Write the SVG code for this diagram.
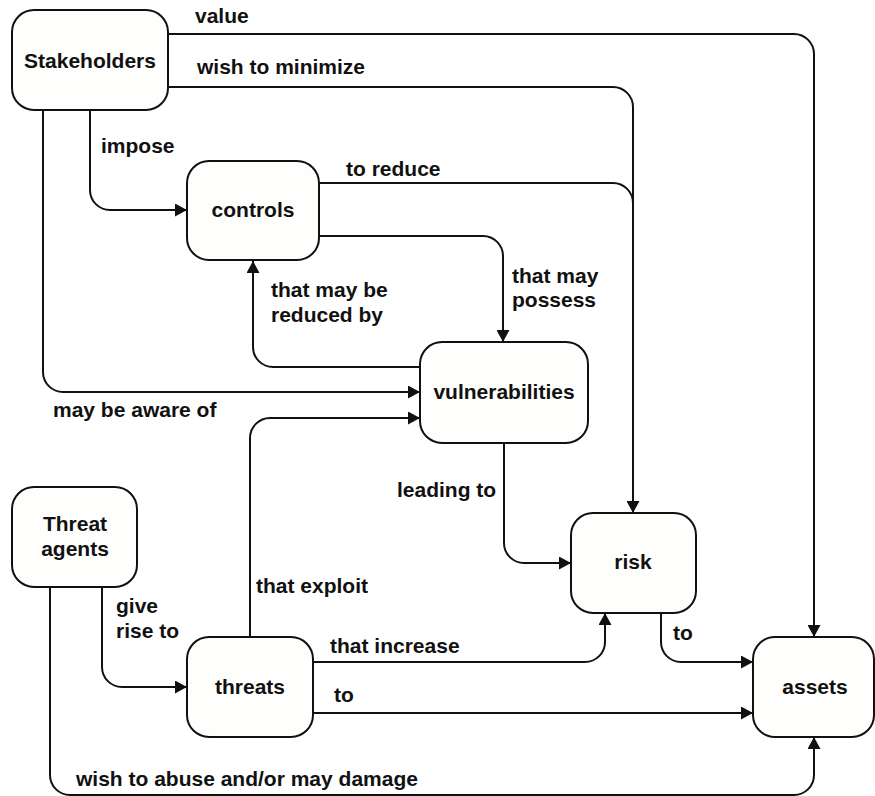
<svg xmlns="http://www.w3.org/2000/svg" width="875" height="796" viewBox="0 0 875 796">
  <defs>
    <marker id="arrow" markerUnits="userSpaceOnUse" markerWidth="13" markerHeight="13" refX="12" refY="6.5" orient="auto">
      <path d="M0,0 L12,6.5 L0,13 z" fill="#111"/>
    </marker>
    <style>
      .box { fill: #fefefd; stroke: #111; stroke-width: 2; }
      .node { font-family: "Liberation Sans", Arial, sans-serif; font-weight: bold; font-size: 21px; fill: #111; text-anchor: middle; }
      .lbl { font-family: "Liberation Sans", Arial, sans-serif; font-weight: bold; font-size: 21px; fill: #111; }
      .edge { fill: none; stroke: #111; stroke-width: 2; }
      .arr { marker-end: url(#arrow); }
    </style>
  </defs>
  <rect width="875" height="796" fill="#ffffff"/>

  <!-- connectors -->
  <g id="connectors">
    <path class="edge arr" d="M168,34 H794 A20,20 0 0 1 814,54 V637"/>
    <path class="edge arr" d="M168,87 H613 A20,20 0 0 1 633,107 V513"/>
    <path class="edge" d="M319,183 H613 A20,20 0 0 1 633,203"/>
    <path class="edge arr" d="M319,236 H483 A20,20 0 0 1 503,256 V342"/>
    <path class="edge arr" d="M420,367 H273 A20,20 0 0 1 253,347 V261"/>
    <path class="edge arr" d="M90,110 V190 A20,20 0 0 0 110,210 H187"/>
    <path class="edge arr" d="M43,110 V372 A20,20 0 0 0 63,392 H420"/>
    <path class="edge arr" d="M250,637 V438 A20,20 0 0 1 270,418 H420"/>
    <path class="edge arr" d="M504,443 V543 A20,20 0 0 0 524,563 H571"/>
    <path class="edge arr" d="M102,587 V667 A20,20 0 0 0 122,687 H187"/>
    <path class="edge arr" d="M313,662 H585 A20,20 0 0 0 605,642 V613"/>
    <path class="edge arr" d="M313,713 H753"/>
    <path class="edge arr" d="M661,613 V642 A20,20 0 0 0 681,662 H753"/>
    <path class="edge arr" d="M50,587 V775 A20,20 0 0 0 70,795 H794 A20,20 0 0 0 814,775 V737"/>
  </g>

  <!-- connector labels -->
  <g id="labels">
    <text class="lbl" x="195" y="23">value</text>
    <text class="lbl" x="197" y="74">wish to minimize</text>
    <text class="lbl" x="101" y="153">impose</text>
    <text class="lbl" x="346" y="176">to reduce</text>
    <text class="lbl" x="512" y="283">that may</text>
    <text class="lbl" x="512" y="307">possess</text>
    <text class="lbl" x="271" y="297">that may be</text>
    <text class="lbl" x="271" y="322">reduced by</text>
    <text class="lbl" x="53" y="417">may be aware of</text>
    <text class="lbl" x="397" y="497">leading to</text>
    <text class="lbl" x="256" y="593">that exploit</text>
    <text class="lbl" x="116" y="613">give</text>
    <text class="lbl" x="116" y="638">rise to</text>
    <text class="lbl" x="330" y="653">that increase</text>
    <text class="lbl" x="334" y="702">to</text>
    <text class="lbl" x="673" y="640">to</text>
    <text class="lbl" x="76" y="786">wish to abuse and/or may damage</text>
  </g>

  <!-- nodes -->
  <g id="stakeholders">
    <rect class="box" x="12" y="10" width="156" height="100" rx="22"/>
    <text class="node" x="90" y="68">Stakeholders</text>
  </g>
  <g id="controls">
    <rect class="box" x="187" y="161" width="132" height="99" rx="22"/>
    <text class="node" x="253" y="217">controls</text>
  </g>
  <g id="vulnerabilities">
    <rect class="box" x="420" y="342" width="168" height="101" rx="22"/>
    <text class="node" x="504" y="399">vulnerabilities</text>
  </g>
  <g id="threat-agents">
    <rect class="box" x="12" y="487" width="125" height="100" rx="22"/>
    <text class="node" x="75" y="531">Threat</text>
    <text class="node" x="75" y="556">agents</text>
  </g>
  <g id="threats">
    <rect class="box" x="187" y="637" width="126" height="100" rx="22"/>
    <text class="node" x="250" y="694">threats</text>
  </g>
  <g id="risk">
    <rect class="box" x="571" y="513" width="125" height="100" rx="22"/>
    <text class="node" x="633" y="569">risk</text>
  </g>
  <g id="assets">
    <rect class="box" x="753" y="637" width="121" height="100" rx="22"/>
    <text class="node" x="815" y="694">assets</text>
  </g>
</svg>
